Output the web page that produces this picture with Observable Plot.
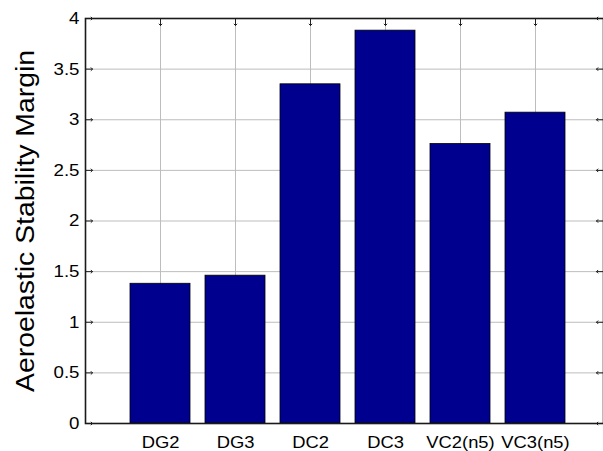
<!DOCTYPE html>
<html>
<head>
<meta charset="utf-8">
<script src="https://cdn.jsdelivr.net/npm/d3@7"></script>
<script src="https://cdn.jsdelivr.net/npm/@observablehq/plot@0.6"></script>
<style>
  html, body { margin: 0; padding: 0; background: #fff; overflow: hidden; }
  #chart svg { display: block; font-family: "Liberation Sans", Arial, Helvetica, sans-serif; }
</style>
</head>
<body>
<div id="chart"></div>
<script>
// Configurations compared on the horizontal axis
const categories = ["DG2", "DG3", "DC2", "DC3", "VC2(n5)", "VC3(n5)"];
// Aeroelastic stability margin per configuration
const margins = [1.38, 1.46, 3.35, 3.88, 2.76, 3.07];
// Y-axis ticks
const yTicks = [0, 0.5, 1, 1.5, 2, 2.5, 3, 3.5, 4];

const data = categories.map((name, i) => ({name, value: margins[i]}));

const W = 603, H = 451;
const mLeft = 85, mTop = 18, mBottom = 28;

const chart = Plot.plot({
  width: W,
  height: H,
  marginLeft: mLeft,
  marginRight: 0,
  marginTop: mTop,
  marginBottom: mBottom,
  style: {background: "#fff", color: "#000", overflow: "hidden"},
  x: {
    type: "band",
    domain: categories,
    range: [mLeft, 610],
    paddingInner: 0.2,
    paddingOuter: 0.6,
    align: 0.5
  },
  y: {domain: [0, 4], range: [H - mBottom, mTop]},
  marks: [
    // grid
    Plot.gridX(categories, {stroke: "#bdbdbd", strokeOpacity: 1, strokeWidth: 1}),
    Plot.gridY(yTicks, {stroke: "#bdbdbd", strokeOpacity: 1, strokeWidth: 1}),
    // bars
    Plot.barY(data, {x: "name", y: "value", fill: "#00008f", stroke: "#000", strokeWidth: 0.8}),
    // inward tick marks on the box
    Plot.vector(yTicks, {y: d => d, frameAnchor: "left", rotate: 90, length: 7, anchor: "start", stroke: "#222", strokeWidth: 1}),
    Plot.vector(yTicks, {y: d => d, frameAnchor: "right", rotate: -90, length: 7, anchor: "start", stroke: "#222", strokeWidth: 1}),
    Plot.vector(categories, {x: d => d, frameAnchor: "top", rotate: 180, length: 7, anchor: "start", stroke: "#222", strokeWidth: 1}),
    // box
    Plot.frame({stroke: "#1a1a1a", strokeWidth: 1.6}),
    // tick labels
    Plot.axisY(yTicks, {tickSize: 0, tickPadding: 6, fontSize: 17, label: null, tickFormat: d => String(d), className: "ylab"}),
    Plot.axisX(categories, {tickSize: 0, tickPadding: 12, fontSize: 17, label: null, className: "xlab"}),
    // y label
    Plot.text(["Aeroelastic Stability Margin"], {
      text: d => d,
      frameAnchor: "left",
      rotate: -90,
      dx: -52,
      fontSize: 25.5,
      textAnchor: "middle",
      lineAnchor: "bottom",
      fill: "#000",
      className: "ytitle"
    })
  ]
});

document.getElementById("chart").append(chart);

// widen the glyph runs slightly, as the typeface is drawn a bit wide
function stretch(selector, factor, fixed) {
  d3.select(chart).selectAll(selector).each(function () {
    const w = fixed != null ? fixed : this.getComputedTextLength() * factor;
    this.setAttribute("textLength", w);
    this.setAttribute("lengthAdjust", "spacingAndGlyphs");
  });
}
stretch(".ylab text", 1.1);
stretch(".xlab text", 1.08);
stretch(".ytitle text", null, 342);
</script>
</body>
</html>
